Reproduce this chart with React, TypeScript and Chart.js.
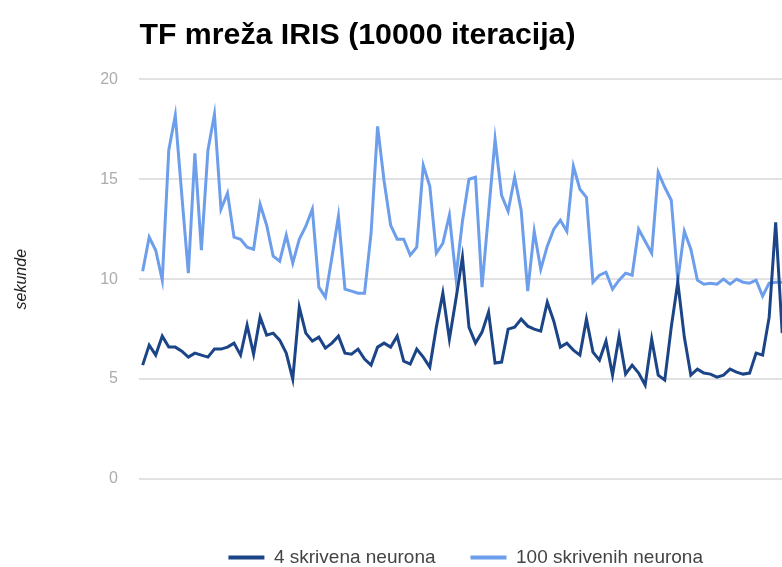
import React, { useEffect, useRef } from "react";
import { Chart, registerables } from "chart.js";

Chart.register(...registerables);

const TITLE = "TF mreža IRIS (10000 iteracija)";
const Y_TITLE = "sekunde";
const SERIES_NAMES = ["4 skrivena neurona", "100 skrivenih neurona"];
const RUN_COUNT = 100;
const RUNS = Array.from({ length: RUN_COUNT }, (_, i) => String(i + 1));
const Y_MIN = 0;
const Y_MAX = 20;
const Y_STEP = 5;

const NEURONS_4 = [
  5.7, 6.7, 6.2, 7.15, 6.6, 6.6, 6.4, 6.1, 6.3, 6.2,
  6.1, 6.5, 6.5, 6.6, 6.8, 6.2, 7.7, 6.25, 8.1, 7.2,
  7.3, 6.95, 6.3, 5.0, 8.6, 7.3, 6.9, 7.1, 6.55, 6.8,
  7.15, 6.3, 6.25, 6.5, 6.0, 5.7, 6.6, 6.8, 6.6, 7.15,
  5.9, 5.75, 6.5, 6.1, 5.6, 7.6, 9.3, 7.0, 9.0, 11.1,
  7.6, 6.8, 7.35, 8.35, 5.8, 5.85, 7.5, 7.6, 8.0, 7.65,
  7.5, 7.4, 8.85, 7.9, 6.6, 6.8, 6.45, 6.2, 8.0, 6.35,
  5.95, 6.9, 5.2, 7.15, 5.25, 5.7, 5.3, 4.7, 7.0, 5.2,
  4.95, 7.6, 9.85, 7.1, 5.2, 5.5, 5.3, 5.25, 5.1, 5.2,
  5.5, 5.35, 5.25, 5.3, 6.3, 6.2, 8.1, 12.85, 7.3,
];

const NEURONS_100 = [
  10.4, 12.1, 11.45, 9.95, 16.45, 18.2, 14.2, 10.3, 16.3, 11.45,
  16.45, 18.25, 13.5, 14.3, 12.1, 12.0, 11.6, 11.5, 13.75, 12.7,
  11.15, 10.9, 12.2, 10.8, 12.0, 12.65, 13.5, 9.6, 9.1, 11.1,
  13.15, 9.5, 9.4, 9.3, 9.3, 12.3, 17.65, 14.9, 12.7, 12.0,
  12.0, 11.2, 11.6, 15.7, 14.65, 11.3, 11.8, 13.2, 10.1, 12.9,
  15.0, 15.1, 9.6, 13.3, 17.0, 14.2, 13.4, 15.1, 13.45, 9.4,
  12.4, 10.5, 11.65, 12.5, 12.95, 12.4, 15.65, 14.5, 14.1, 9.85,
  10.2, 10.35, 9.5, 9.95, 10.3, 10.2, 12.5, 11.9, 11.3, 15.35,
  14.6, 13.95, 9.95, 12.4, 11.5, 9.95, 9.75, 9.8, 9.75, 10.0,
  9.75, 10.0, 9.85, 9.8, 9.95, 9.15, 9.8, 9.85, 9.85,
];

const COLORS = ["#1c4587", "#6d9eeb"];
const FONT = "'Liberation Sans', Arial, sans-serif";

export default function App() {
  const ref = useRef<HTMLCanvasElement>(null);

  useEffect(() => {
    if (!ref.current) return;
    Chart.defaults.font.family = FONT;
    const chart = new Chart(ref.current, {
      type: "line",
      data: {
        labels: RUNS,
        datasets: [
          {
            label: SERIES_NAMES[0],
            data: NEURONS_4,
            borderColor: COLORS[0],
            backgroundColor: COLORS[0],
            borderWidth: 3,
            pointRadius: 0,
            tension: 0,
            fill: false,
          },
          {
            label: SERIES_NAMES[1],
            data: NEURONS_100,
            borderColor: COLORS[1],
            backgroundColor: COLORS[1],
            borderWidth: 3,
            pointRadius: 0,
            tension: 0,
            fill: false,
          },
        ],
      },
      options: {
        animation: false,
        responsive: false,
        layout: { padding: 0 },
        plugins: {
          title: {
            display: true,
            text: TITLE,
            align: "start",
            fullSize: false,
            color: "#000",
            font: { family: FONT, size: 30.3, weight: "bold" },
            padding: { top: 17, bottom: 26 },
          },
          legend: {
            position: "bottom",
            fullSize: false,
            labels: {
              boxWidth: 36,
              boxHeight: 4,
              padding: 35,
              color: "#444",
              font: { family: FONT, size: 19 },
              generateLabels: (c: any) =>
                Chart.defaults.plugins.legend.labels
                  .generateLabels(c)
                  .map((l: any) => ({ ...l, lineWidth: 0 })),
            },
          },
          tooltip: { enabled: false },
        },
        scales: {
          x: {
            type: "category",
            offset: true,
            grid: { display: false },
            border: { display: false },
            ticks: { display: false },
            afterFit: (s: any) => {
              s.height = 34;
            },
          },
          y: {
            min: Y_MIN,
            max: Y_MAX,
            ticks: {
              stepSize: Y_STEP,
              padding: 21.4,
              color: "#acacac",
              font: { family: FONT, size: 16 },
            },
            grid: { color: "#e2e2e2", lineWidth: 2, drawTicks: false },
            border: { display: false },
            title: {
              display: true,
              text: Y_TITLE,
              color: "#222",
              font: { family: FONT, size: 16, style: "italic" },
              padding: { top: 12, bottom: 0 },
            },
            afterFit: (s: any) => {
              s.width = 139.4;
            },
          },
        },
      },
    });
    return () => chart.destroy();
  }, []);

  return (
    <div
      style={{
        position: "absolute",
        left: 0,
        top: 0,
        width: 782,
        height: 567,
        overflow: "hidden",
        background: "#fff",
      }}
    >
      <canvas
        ref={ref}
        width={792}
        height={577}
        style={{ display: "block", width: 792, height: 577 }}
      />
    </div>
  );
}
